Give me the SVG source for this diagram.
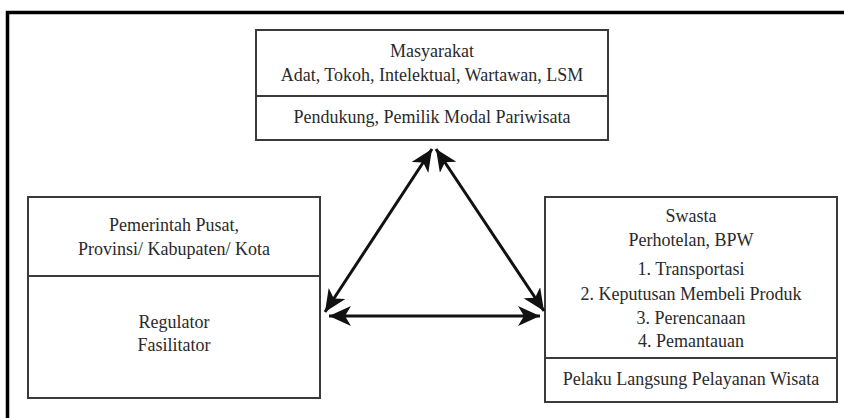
<svg xmlns="http://www.w3.org/2000/svg" width="844" height="418" viewBox="0 0 844 418">
<style>
.box{fill:#fff;stroke:#3a3a3a;stroke-width:2}
.div{stroke:#3a3a3a;stroke-width:2}
.t{font-family:'Liberation Serif','Times New Roman',serif;font-size:18px;fill:#2a2a2a;text-anchor:middle}
.con{stroke:#111;stroke-width:3;fill:none}
</style>
<defs>
<marker id="ah" viewBox="0 -10 22 20" refX="22" refY="0" markerWidth="22" markerHeight="20" markerUnits="userSpaceOnUse" orient="auto-start-reverse">
<path d="M22,0 L0,-10 L6,0 L0,10 Z" fill="#111"/>
</marker>
</defs>
<rect width="844" height="418" fill="#fff"/>
<path d="M7.5,418 V12.5 H844" fill="none" stroke="#000" stroke-width="3.5"/>
<g id="masyarakat">
<rect class="box" x="256" y="30" width="352" height="110"/>
<line class="div" x1="256" y1="96" x2="608" y2="96"/>
<text class="t" x="432" y="57">Masyarakat</text>
<text class="t" x="432" y="81">Adat, Tokoh, Intelektual, Wartawan, LSM</text>
<text class="t" x="432" y="123">Pendukung, Pemilik Modal Pariwisata</text>
</g>
<g id="pemerintah">
<rect class="box" x="28" y="197" width="292" height="201"/>
<line class="div" x1="28" y1="276" x2="320" y2="276"/>
<text class="t" x="174" y="231">Pemerintah Pusat,</text>
<text class="t" x="174" y="255">Provinsi/ Kabupaten/ Kota</text>
<text class="t" x="174" y="328">Regulator</text>
<text class="t" x="174" y="351">Fasilitator</text>
</g>
<g id="swasta">
<rect class="box" x="545" y="197" width="292" height="205"/>
<line class="div" x1="545" y1="358" x2="837" y2="358"/>
<text class="t" x="691" y="222">Swasta</text>
<text class="t" x="691" y="246">Perhotelan, BPW</text>
<text class="t" x="691" y="275">1. Transportasi</text>
<text class="t" x="691" y="300">2. Keputusan Membeli Produk</text>
<text class="t" x="691" y="324">3. Perencanaan</text>
<text class="t" x="691" y="347">4. Pemantauan</text>
<text class="t" x="691" y="385">Pelaku Langsung Pelayanan Wisata</text>
</g>
<g id="connectors">
<line class="con" x1="432" y1="149" x2="325" y2="312" marker-start="url(#ah)" marker-end="url(#ah)"/>
<line class="con" x1="436" y1="149" x2="544" y2="311" marker-start="url(#ah)" marker-end="url(#ah)"/>
<line class="con" x1="329" y1="316" x2="540" y2="316" marker-start="url(#ah)" marker-end="url(#ah)"/>
</g>
</svg>
